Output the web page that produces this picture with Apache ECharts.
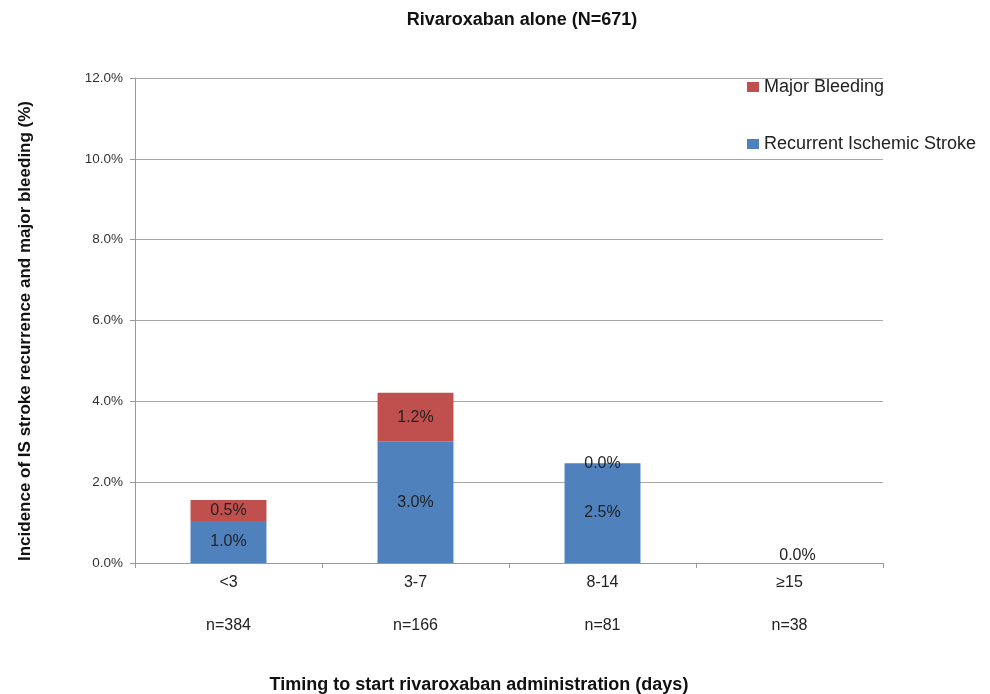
<!DOCTYPE html>
<html>
<head>
<meta charset="utf-8">
<script src="https://cdn.jsdelivr.net/npm/echarts@6/dist/echarts.min.js"></script>
<style>html,body{margin:0;padding:0;background:#fff;overflow:hidden}#c{width:990px;height:694px}</style>
</head>
<body>
<div id="c"></div>
<script>
const categories = ['<3', '3-7', '8-14', '\u226515'];
const groupSizes = ['n=384', 'n=166', 'n=81', 'n=38'];
const strokeValues = [1.04, 3.01, 2.47, 0.0];
const bleedingValues = [0.52, 1.20, 0.0, 0.0];
const yTicks = [0, 2, 4, 6, 8, 10, 12];

const FONT = '"Liberation Sans", Arial, sans-serif';
const fmt = p => p.value.toFixed(1) + '%';
const labelBase = {show: true, position: 'inside', formatter: fmt, fontFamily: FONT, fontSize: 16, color: '#222'};

const chart = echarts.init(document.getElementById('c'));
chart.setOption({
  animation: false,
  backgroundColor: '#fff',
  graphic: [{
    type: 'text', x: 522, y: 20,
    style: {text: 'Rivaroxaban alone (N=671)', textAlign: 'center', textVerticalAlign: 'middle',
      font: 'bold 18px ' + FONT, fill: '#111'}
  }, {
    type: 'text', x: 479, y: 685,
    style: {text: 'Timing to start rivaroxaban administration (days)', textAlign: 'center', textVerticalAlign: 'middle',
      font: 'bold 18px ' + FONT, fill: '#111'}
  }, {
    type: 'text', x: 25, y: 331, rotation: Math.PI / 2,
    style: {text: 'Incidence of IS stroke recurrence and major bleeding (%)', textAlign: 'center', textVerticalAlign: 'middle',
      font: 'bold 17px ' + FONT, fill: '#111'}
  }],
  legend: {
    orient: 'vertical', left: 747, top: 78, padding: 0, itemGap: 39, itemWidth: 12, itemHeight: 10,
    icon: 'rect',
    data: ['Major Bleeding', 'Recurrent Ischemic Stroke'],
    textStyle: {fontFamily: FONT, fontSize: 18, color: '#222'}
  },
  grid: {left: 135, width: 748, top: 78, height: 485},
  xAxis: [{
    type: 'category', data: categories,
    axisLine: {lineStyle: {color: '#999'}},
    axisTick: {show: true, length: 5, lineStyle: {color: '#999'}},
    axisLabel: {fontFamily: FONT, fontSize: 16, color: '#222', margin: 12}
  }, {
    type: 'category', data: groupSizes, position: 'bottom', offset: 46,
    axisLine: {show: false}, axisTick: {show: false},
    axisLabel: {fontFamily: FONT, fontSize: 16, color: '#222', margin: 9}
  }],
  yAxis: {
    type: 'value', min: yTicks[0], max: yTicks[yTicks.length - 1], interval: 2,
    axisLine: {show: true, lineStyle: {color: '#999'}},
    axisTick: {show: true, inside: false, length: 5, lineStyle: {color: '#999'}},
    splitLine: {lineStyle: {color: '#a6a6a6'}},
    axisLabel: {fontFamily: FONT, fontSize: 13.5, color: '#333', margin: 12, formatter: v => v.toFixed(1) + '%'}
  },
  series: [{
    name: 'Recurrent Ischemic Stroke', type: 'bar', stack: 's', barWidth: '40.6%',
    itemStyle: {color: '#4F81BD'},
    label: labelBase,
    data: strokeValues.map((v, i) => (v === 0 && bleedingValues[i] === 0) ? {value: v, label: {show: false}} : v)
  }, {
    name: 'Major Bleeding', type: 'bar', stack: 's', barWidth: '40.6%',
    itemStyle: {color: '#C0504D'},
    label: labelBase,
    data: bleedingValues.map((v, i) => (v === 0 && strokeValues[i] === 0) ? {value: v, label: {offset: [8, -7]}} : v)
  }]
});
</script>
</body>
</html>
